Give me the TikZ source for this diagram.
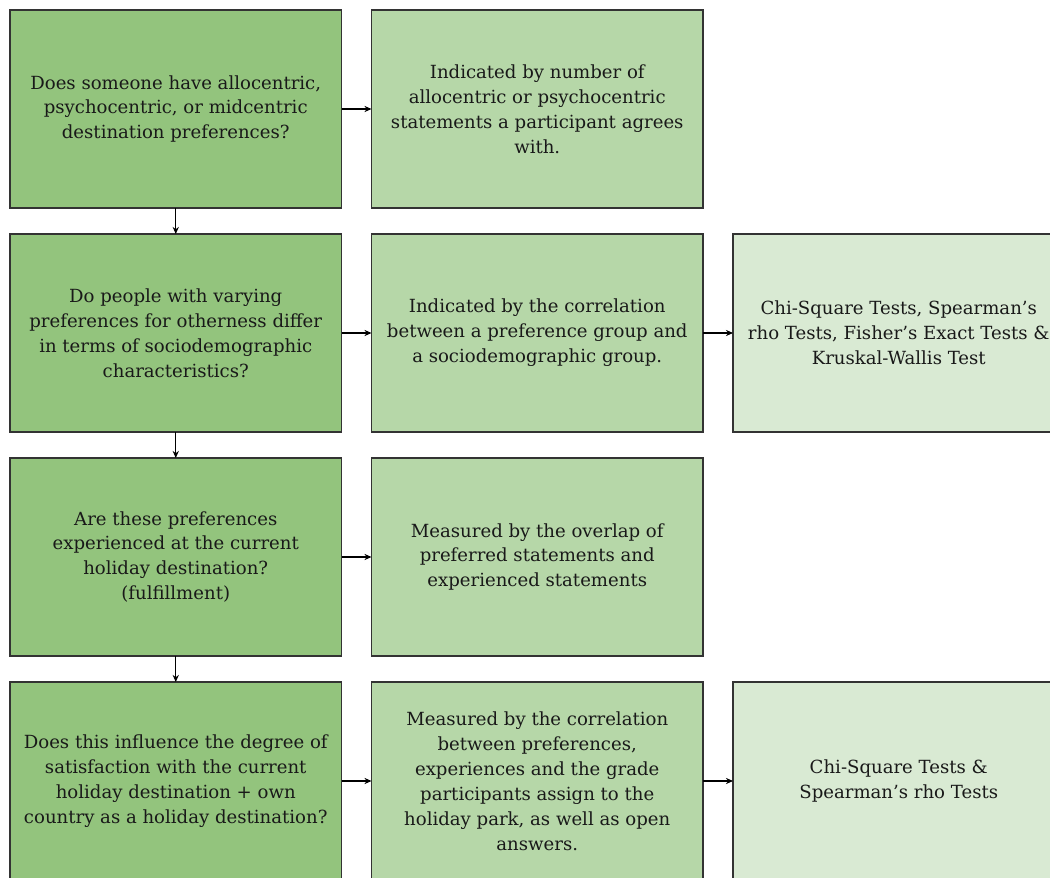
\documentclass[tikz,border=0pt]{standalone}
\usepackage{fontspec}
\setmainfont{DejaVu Serif}
\usepackage{tikz}
\usetikzlibrary{arrows.meta,positioning}

\definecolor{qgreen}{HTML}{93C47D}
\definecolor{mgreen}{HTML}{B6D7A8}
\definecolor{tgreen}{HTML}{D9EAD3}
\definecolor{edgegrey}{HTML}{333333}

\begin{document}
\begin{tikzpicture}[
  box/.style={draw=edgegrey, line width=0.6pt, minimum width=6.63cm, minimum height=3.96cm,
    outer sep=0pt, inner sep=0pt, align=center, text=black!90,
    font=\fontsize{10.3}{14.2}\selectfont},
  question/.style={box, fill=qgreen},
  measure/.style={box, fill=mgreen},
  test/.style={box, fill=tgreen},
  node distance=0.52cm and 0.6cm
]
%
\path[use as bounding box] (0,0) rectangle (21,-17.56);
\clip (0,0) rectangle (21,-17.56);
%
\node[question, anchor=north west] (q1) at (0.2,-0.2) {Does someone have allocentric,\\psychocentric, or midcentric\\destination preferences?};
\node[question, below=of q1] (q2) {Do people with varying\\preferences for otherness differ\\in terms of sociodemographic\\characteristics?};
\node[question, below=of q2] (q3) {Are these preferences\\experienced at the current\\holiday destination?\\(fulfillment)};
\node[question, below=of q3] (q4) {Does this influence the degree of\\satisfaction with the current\\holiday destination + own\\country as a holiday destination?};
%
\node[measure, right=of q1] (m1) {Indicated by number of\\allocentric or psychocentric\\statements a participant agrees\\with.};
\node[measure, right=of q2] (m2) {Indicated by the correlation\\between a preference group and\\a sociodemographic group.};
\node[measure, right=of q3] (m3) {Measured by the overlap of\\preferred statements and\\experienced statements};
\node[measure, right=of q4] (m4) {Measured by the correlation\\between preferences,\\experiences and the grade\\participants assign to the\\holiday park, as well as open\\answers.};
%
\node[test, right=of m2] (t2) {Chi-Square Tests, Spearman’s\\rho Tests, Fisher’s Exact Tests \&\\Kruskal-Wallis Test};
\node[test, right=of m4] (t4) {Chi-Square Tests \&\\Spearman’s rho Tests};
%
\begin{scope}[-{Stealth[length=4pt, width=3.5pt]}, line width=0.6pt, draw=black]
  \draw (q1) -- (q2);
  \draw (q2) -- (q3);
  \draw (q3) -- (q4);
  \draw (q1) -- (m1);
  \draw (q2) -- (m2);
  \draw (q3) -- (m3);
  \draw (q4) -- (m4);
  \draw (m2) -- (t2);
  \draw (m4) -- (t4);
\end{scope}
%
\end{tikzpicture}
\end{document}
